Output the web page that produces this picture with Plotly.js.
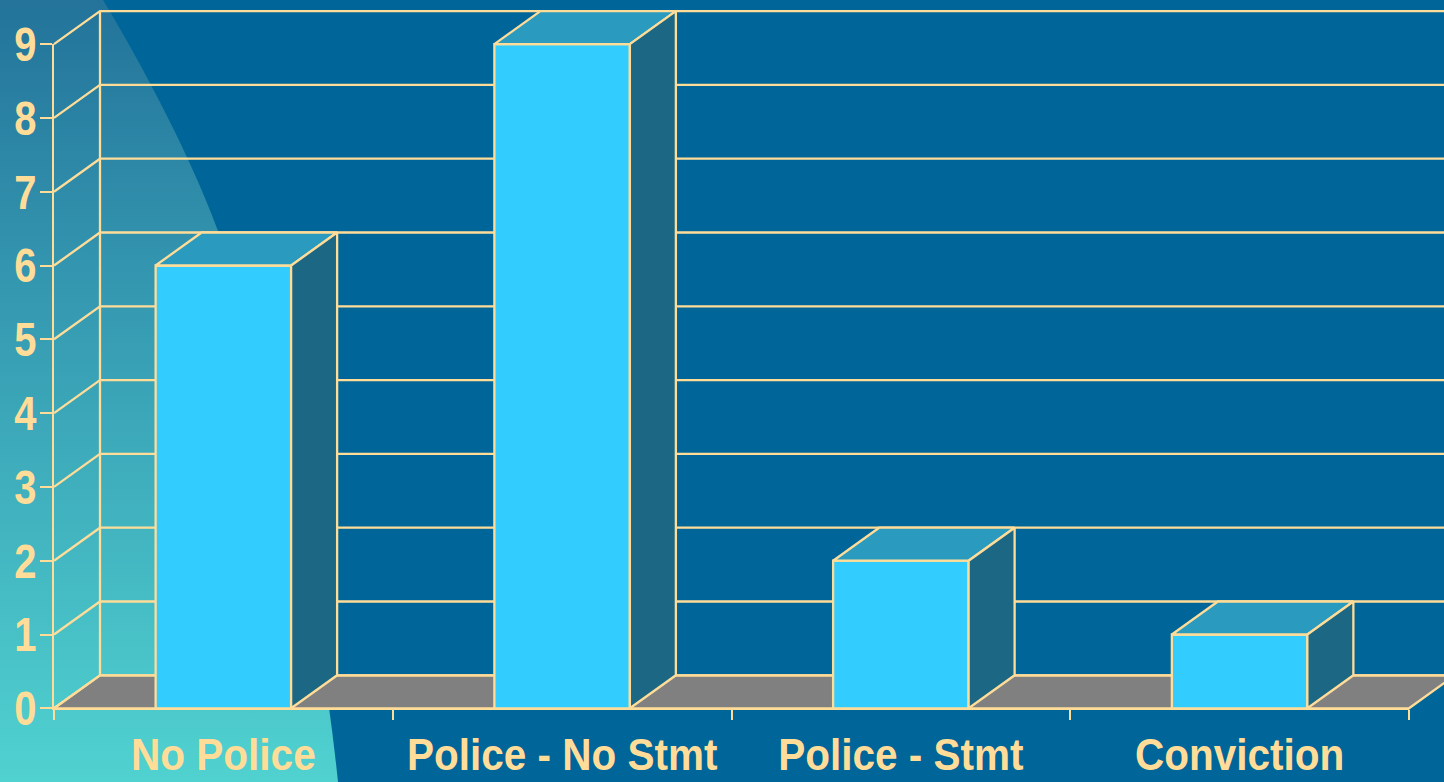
<!DOCTYPE html>
<html>
<head>
<meta charset="utf-8">
<script src="https://cdn.plot.ly/plotly-3.0.1.min.js"></script>
<style>
html,body{margin:0;padding:0;width:1444px;height:782px;overflow:hidden;background:#006699}
#bg{position:absolute;left:0;top:0}
#chart{position:absolute;left:0;top:0;width:1444px;height:782px}
</style>
</head>
<body>
<svg id="bg" width="1444" height="782" viewBox="0 0 1444 782">
  <defs><linearGradient id="g" x1="0" y1="0" x2="0" y2="1">
    <stop offset="0" stop-color="#23739A"/><stop offset="0.36" stop-color="#3497B0"/><stop offset="1" stop-color="#50D2D0"/>
  </linearGradient></defs>
  <path d="M0,0 L103,0 C138,58 188,150 218,231 C270,375 318,590 338,782 L0,782 Z" fill="url(#g)"/>
</svg>
<div id="chart"></div>
<script>
const categories = ["No Police", "Police - No Stmt", "Police - Stmt", "Conviction"];
const values = [6, 9, 2, 1];
const yTicks = [0, 1, 2, 3, 4, 5, 6, 7, 8, 9];
const xEdges = [-0.5, 0.5, 1.5, 2.5, 3.5];

const W = 1444, H = 782, X0 = 54, UX = 338.75, Y0 = 708.3, UY = 73.8;
const LINE = "#FFDD99", BAR = "#33CCFF", TOP = "#2A9ABF", SIDE = "#1C6784", FLOOR = "#808080";
const barWidth = 0.4, dx = 46 / UX, dy = 33 / UY;
const FAMILY = '"Liberation Sans",Arial,sans-serif';
const FONT_Y = {family: FAMILY, size: 48, color: LINE, weight: 700};
const FONT_X = {family: FAMILY, size: 45, color: LINE, weight: 700};
const xL = xEdges[0], xR = xEdges[xEdges.length - 1], yMax = yTicks[yTicks.length - 1];
const ln = {color: LINE, width: 2.3};
const rangeX = [xL - X0 / UX, xL + (W - X0) / UX], rangeY = [-(H - Y0) / UY, Y0 / UY];

function poly(xs, ys, fill, axes) {
  return Object.assign({type: "scatter", mode: "lines", x: xs, y: ys, fill: fill ? "toself" : "none",
    fillcolor: fill || undefined, line: ln, hoverinfo: "skip", showlegend: false}, axes || {});
}

const traces = [];
// floor, back wall, side wall (full-page subplot)
traces.push(poly([xL, xL + dx, xR + dx, xR, xL], [0, dy, dy, 0, 0], FLOOR));
yTicks.forEach(t => traces.push(poly([xL, xL + dx, xR + dx], [t, t + dy, t + dy])));
traces.push(poly([xL + dx, xL + dx], [dy, yMax + dy]));

// bars (full-page subplot above the walls)
const ov = {xaxis: "x2", yaxis: "y2"};
const idx = categories.map((_, i) => i);
traces.push(Object.assign({type: "bar", x: idx, y: values, width: barWidth,
  marker: {color: BAR, line: {color: LINE, width: 2.3}}, hoverinfo: "skip", showlegend: false}, ov));
values.forEach((v, i) => {
  const l = i - barWidth / 2, r = i + barWidth / 2;
  traces.push(poly([l, l + dx, r + dx, r, l], [v, v + dy, v + dy, v, v], TOP, ov));
  traces.push(poly([r, r + dx, r + dx, r, r], [0, dy, v + dy, v, 0], SIDE, ov));
});

// axes subplot, carries ticks and labels on top
traces.push({type: "scatter", mode: "none", x: idx, y: values, xaxis: "x3", yaxis: "y3", hoverinfo: "skip", showlegend: false});

const hidden = {visible: false, showgrid: false, zeroline: false};
const layout = {
  width: W, height: H,
  margin: {l: 0, r: 0, t: 0, b: 0, pad: 0},
  paper_bgcolor: "rgba(0,0,0,0)", plot_bgcolor: "rgba(0,0,0,0)",
  showlegend: false, hovermode: false,
  xaxis:  Object.assign({type: "linear", domain: [0, 1], range: rangeX, anchor: "y"}, hidden),
  yaxis:  Object.assign({type: "linear", domain: [0, 1], range: rangeY, anchor: "x"}, hidden),
  xaxis2: Object.assign({type: "linear", domain: [0, 1], range: rangeX, anchor: "y2"}, hidden),
  yaxis2: Object.assign({type: "linear", domain: [0, 1], range: rangeY, anchor: "x2"}, hidden),
  xaxis3: {type: "linear", anchor: "y3", domain: [X0 / W, (X0 + (xR - xL) * UX) / W], range: [xL, xR],
    tickmode: "array", tickvals: idx, ticktext: categories, ticks: "", tickangle: 0, tickfont: FONT_X,
    ticklabelstandoff: 6, showgrid: false, zeroline: false, showline: true, linecolor: LINE, linewidth: 2,
    minor: {tickmode: "array", tickvals: xEdges, ticks: "outside", ticklen: 10, tickwidth: 2, tickcolor: LINE, showgrid: false}},
  yaxis3: {type: "linear", anchor: "x3", domain: [(H - Y0) / H, (H - Y0 + yMax * UY) / H], range: [0, yMax],
    tickmode: "array", tickvals: yTicks, ticktext: yTicks.map(String), ticks: "outside", ticklen: 12, tickwidth: 2,
    tickcolor: LINE, tickfont: FONT_Y, ticklabelstandoff: -6, showgrid: false, zeroline: false,
    showline: true, linecolor: LINE, linewidth: 2}
};
Plotly.newPlot("chart", traces, layout, {displayModeBar: false, responsive: false, staticPlot: true}).then(() => {
  // The reference face is a narrow bold sans: condense the real text nodes horizontally.
  const condense = (sel, k) => document.querySelectorAll(sel).forEach(t => {
    const w = t.getComputedTextLength();
    if (w > 0) {
      t.setAttribute("textLength", (w * k).toFixed(1));
      t.setAttribute("lengthAdjust", "spacingAndGlyphs");
    }
  });
  condense("#chart .x3tick text", 0.9);
  condense("#chart .y3tick text", 0.83);
});
</script>
</body>
</html>
